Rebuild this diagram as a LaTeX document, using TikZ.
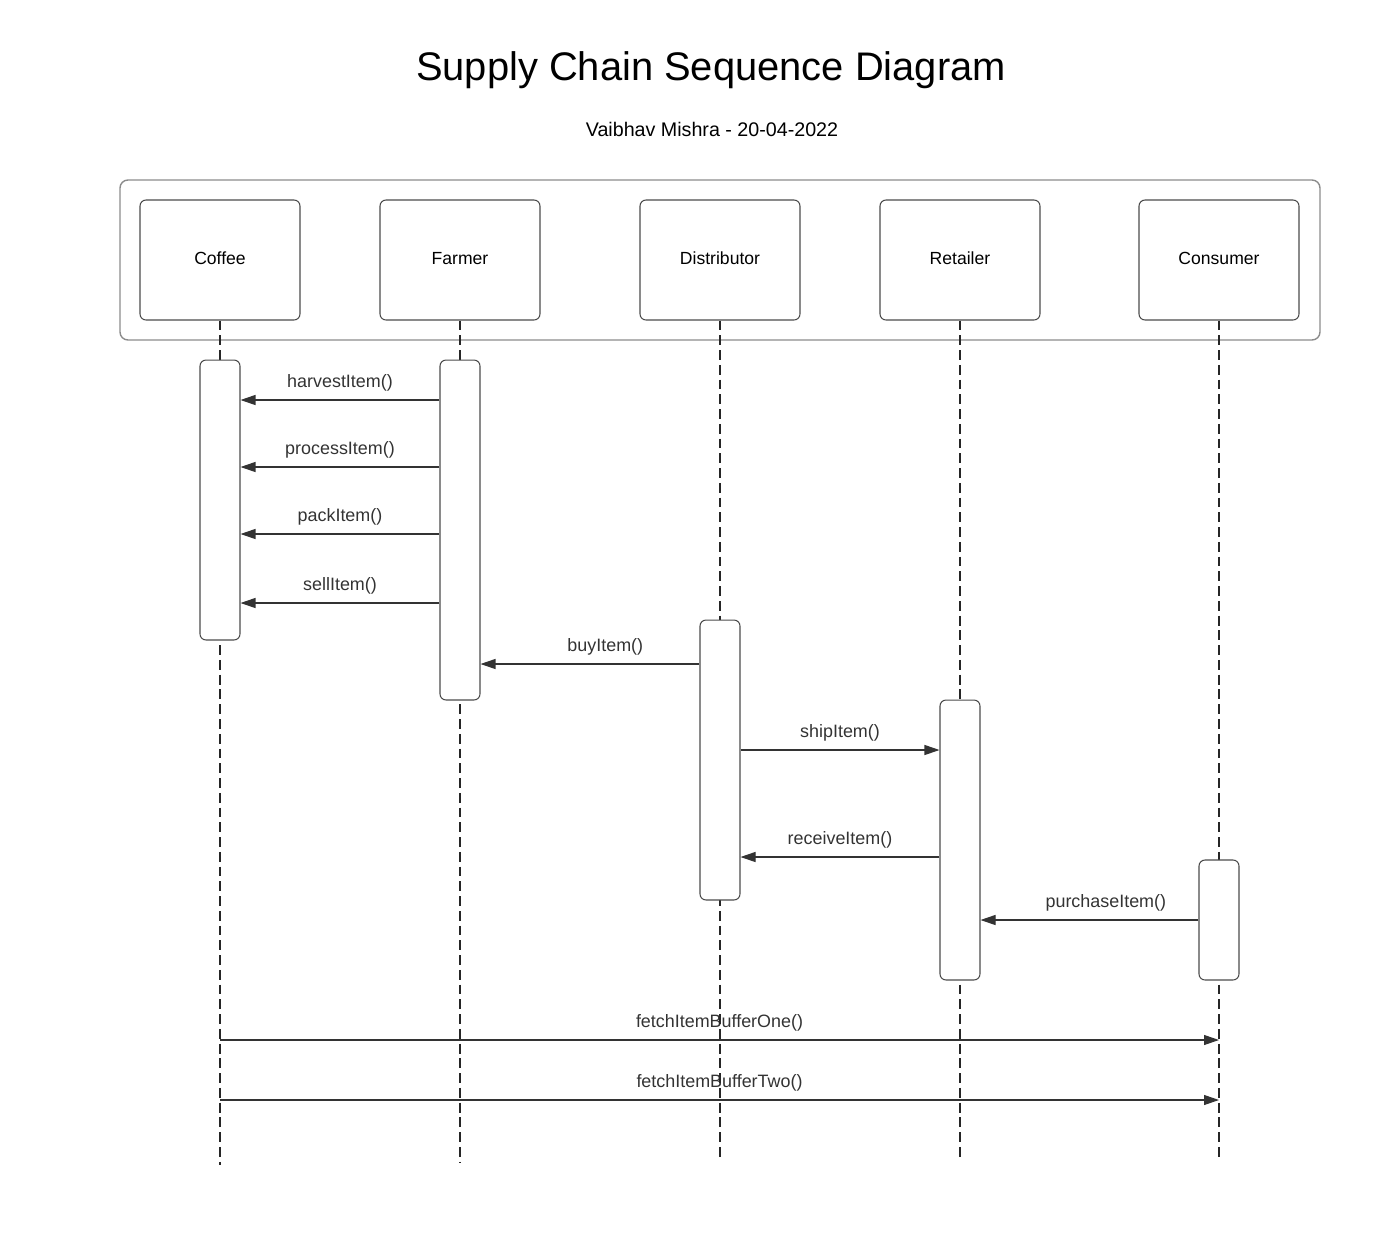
\documentclass[tikz,border=0pt]{standalone}
\usepackage{fontspec}
\setmainfont{Liberation Sans}
\usepackage{tikz}
\usetikzlibrary{arrows.meta,calc}

\begin{document}
\begin{tikzpicture}[x=0.02cm, y=-0.02cm,
    frame/.style={draw=black!45, line width=0.8pt, rounded corners=0.16cm},
    actor/.style={draw=black!70, line width=0.6pt, rounded corners=0.12cm, fill=white,
      minimum width=3.2cm, minimum height=2.4cm, inner sep=0pt, text height=0.75em, text depth=0.2em,
      font=\fontsize{10}{12}\selectfont},
    act/.style={draw=black!70, line width=0.6pt, rounded corners=0.12cm, fill=white,
      minimum width=0.8cm, inner sep=0pt},
    lifeline/.style={draw=black!85, line width=0.6pt, dash pattern=on 5.6pt off 2.8pt},
    msg/.style={draw=black!80, line width=0.6pt, -{Triangle[length=0.3cm, width=0.2cm]}},
    msglabel/.style={midway, above=0.16cm, inner sep=0pt, text=black!80, font=\fontsize{10.2}{12}\selectfont}]
    \useasboundingbox (0,0) rectangle (1380,1258);

    \node[anchor=base, font=\fontsize{22.7}{27}\selectfont] (title) at (711,80) {Supply Chain Sequence Diagram};
    \node[anchor=base, font=\fontsize{11.2}{13}\selectfont] (author) at (712,136) {Vaibhav Mishra - 20-04-2022};

    \draw[frame] (120,180) rectangle (1320,340);

    \node[actor] (coffee) at (220,260) {Coffee};
    \node[actor] (farmer) at (460,260) {Farmer};
    \node[actor] (distributor) at (720,260) {Distributor};
    \node[actor] (retailer) at (960,260) {Retailer};
    \node[actor] (consumer) at (1219,260) {Consumer};

    \draw[msg] (coffee |- 0,1040) -- (consumer |- 0,1040) node[msglabel] {fetchItemBufferOne()};
    \draw[msg] (coffee |- 0,1100) -- (consumer |- 0,1100) node[msglabel] {fetchItemBufferTwo()};

    \coordinate (coffeeEnd) at (220,1165);
    \coordinate (farmerEnd) at (460,1163);
    \coordinate (distributorEnd) at (720,1160);
    \coordinate (retailerEnd) at (960,1161);
    \coordinate (consumerEnd) at (1219,1160);
    \draw[lifeline] (coffee.south) -- (coffeeEnd);
    \draw[lifeline] (farmer.south) -- (farmerEnd);
    \draw[lifeline] (distributor.south) -- (distributorEnd);
    \draw[lifeline] (retailer.south) -- (retailerEnd);
    \draw[lifeline] (consumer.south) -- (consumerEnd);

    \node[act, minimum height=5.6cm] (coffeeAct) at (220,500) {};
    \node[act, minimum height=6.8cm] (farmerAct) at (460,530) {};
    \node[act, minimum height=5.6cm] (distributorAct) at (720,760) {};
    \node[act, minimum height=5.6cm] (retailerAct) at (960,840) {};
    \node[act, minimum height=2.4cm] (consumerAct) at (1219,920) {};

    \draw[msg] (farmerAct.west |- 0,400) -- (coffeeAct.east |- 0,400) node[msglabel] {harvestItem()};
    \draw[msg] (farmerAct.west |- 0,467) -- (coffeeAct.east |- 0,467) node[msglabel] {processItem()};
    \draw[msg] (farmerAct.west |- 0,534) -- (coffeeAct.east |- 0,534) node[msglabel] {packItem()};
    \draw[msg] (farmerAct.west |- 0,603) -- (coffeeAct.east |- 0,603) node[msglabel] {sellItem()};
    \draw[msg] (distributorAct.west |- 0,664) -- (farmerAct.east |- 0,664) node[msglabel, pos=0.43] {buyItem()};
    \draw[msg] (distributorAct.east |- 0,750) -- (retailerAct.west |- 0,750) node[msglabel] {shipItem()};
    \draw[msg] (retailerAct.west |- 0,857) -- (distributorAct.east |- 0,857) node[msglabel] {receiveItem()};
    \draw[msg] (consumerAct.west |- 0,920) -- (retailerAct.east |- 0,920) node[msglabel, pos=0.425] {purchaseItem()};
\end{tikzpicture}
\end{document}
